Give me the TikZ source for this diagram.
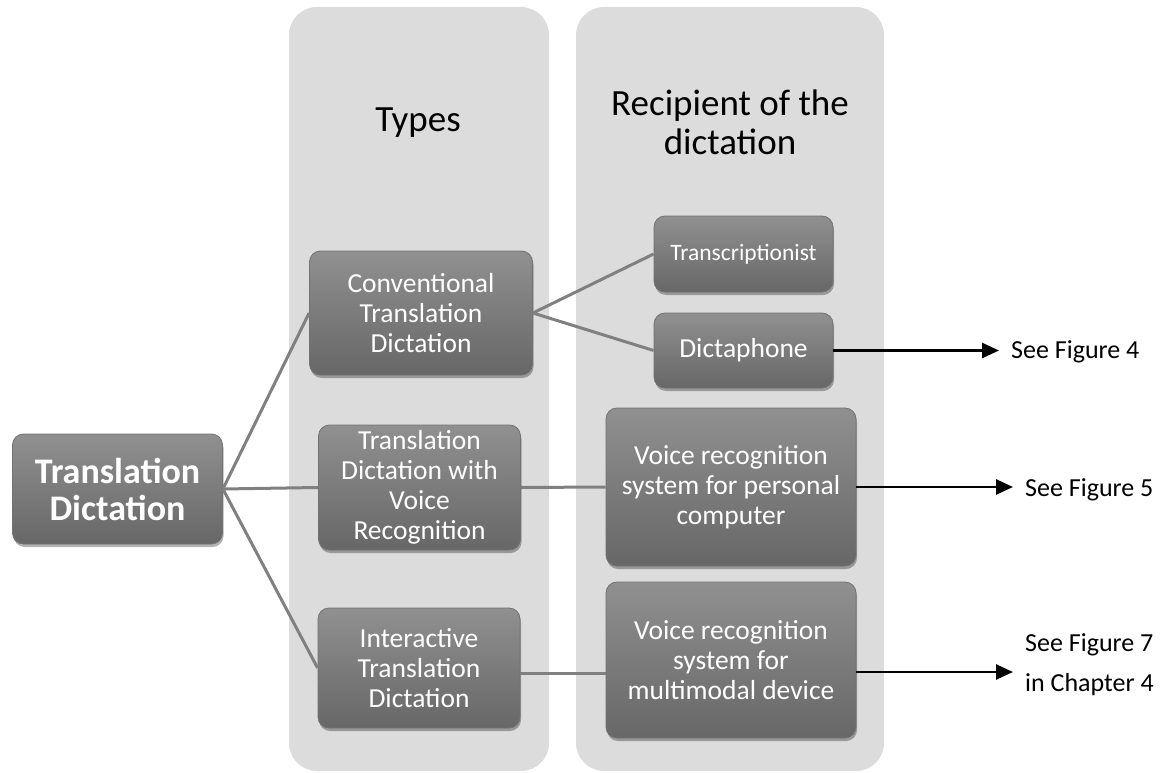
\documentclass[tikz,border=0pt]{standalone}
\usepackage{fontspec}
\setmainfont{Carlito}
\usetikzlibrary{shadows,arrows.meta}

\definecolor{colgray}{HTML}{DCDCDC}
\definecolor{boxtop}{HTML}{909090}
\definecolor{boxbot}{HTML}{676767}
\definecolor{boxedge}{HTML}{727272}
\definecolor{linkgray}{HTML}{808080}

\tikzset{
  column/.style={fill=colgray, draw=none, rounded corners=28pt},
  header/.style={align=center, inner sep=0pt, text=black,
    font=\fontsize{37}{39}\selectfont},
  box/.style={rounded corners=11pt, top color=boxtop, bottom color=boxbot,
    draw=boxedge, line width=0.8pt, text=white, align=center, inner sep=0pt,
    font=\fontsize{27.5}{30}\selectfont,
    drop shadow={shadow xshift=1pt, shadow yshift=-3pt, opacity=0.3, fill=black}},
  link/.style={draw=linkgray, line width=3pt},
  pointer/.style={draw=black, line width=2.6pt,
    -{Triangle[length=17pt, width=15pt]}, shorten >=12pt},
  seelabel/.style={anchor=west, align=left, inner sep=0pt, text=black,
    font=\fontsize{26}{40}\selectfont}
}

\begin{document}
\begin{tikzpicture}[x=1pt, y=-1pt]
\useasboundingbox (0,0) rectangle (1162,773);

% two background columns with their headings
\draw[column] (289,7) rectangle (549,771);
\draw[column] (576,7) rectangle (884,771);
\node[header] (types) at (418,123) {Types};
\node[header] (recip) at (730,122) {Recipient of the\\dictation};

% root
\node[box, minimum width=210pt, minimum height=110pt,
      font=\bfseries\fontsize{36}{37}\selectfont] (td) at (117.5,489)
      {Translation\\Dictation};

% types
\node[box, minimum width=223pt, minimum height=124pt] (conv) at (421,313)
      {Conventional\\Translation\\Dictation};
\node[box, minimum width=202pt, minimum height=125pt] (tdvr) at (419.5,487.5)
      {Translation\\Dictation with\\Voice\\Recognition};
\node[box, minimum width=202pt, minimum height=120pt] (itd) at (419,668)
      {Interactive\\Translation\\Dictation};

% recipients
\node[box, minimum width=179pt, minimum height=76pt,
      font=\fontsize{23.5}{26}\selectfont] (trans) at (743.5,254)
      {Transcriptionist};
\node[box, minimum width=179pt, minimum height=75pt] (dicta) at (743.5,350.5)
      {Dictaphone};
\node[box, minimum width=250pt, minimum height=158pt] (vr1) at (731,487)
      {Voice recognition\\system for personal\\computer};
\node[box, minimum width=250pt, minimum height=156pt] (vr2) at (731,660)
      {Voice recognition\\system for\\multimodal device};

% references to other figures
\node[seelabel] (fig4) at (1011,352) {See Figure 4};
\node[seelabel] (fig5) at (1025,490) {See Figure 5};
\node[seelabel] (fig7) at (1025,665) {See Figure 7\\in Chapter 4};

% hierarchy links
\draw[link] (td.east) -- (conv.west);
\draw[link] (td.east) -- (tdvr.west);
\draw[link] (td.east) -- (itd.west);
\draw[link] (conv.east) -- (trans.west);
\draw[link] (conv.east) -- (dicta.west);
\draw[link] (tdvr.east) -- (vr1.west);
\draw[link] ([yshift=-5pt]itd.east) -- ([yshift=-13pt]vr2.west);

% arrows
\draw[pointer] (dicta.east) -- (dicta.east -| fig4.west);
\draw[pointer] (vr1.east) -- (vr1.east -| fig5.west);
\coordinate (vr2out) at ([yshift=-12pt]vr2.east);
\draw[pointer] (vr2out) -- (vr2out -| fig7.west);
\end{tikzpicture}
\end{document}
